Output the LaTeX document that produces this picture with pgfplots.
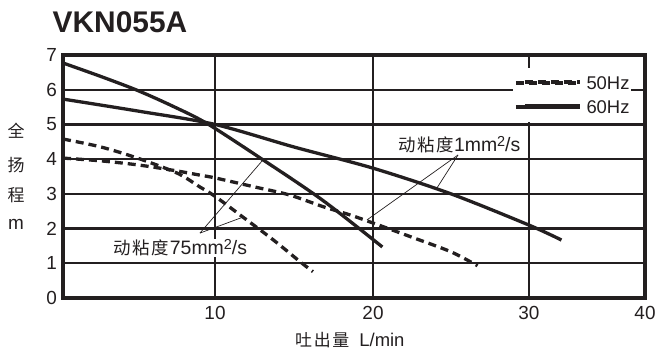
\documentclass[border=0pt]{standalone}
\usepackage{fontspec}
\setmainfont{Liberation Sans}
\newfontfamily\cjk[LetterSpace=10]{Noto Sans CJK SC}
\usepackage{pgfplots}
\pgfplotsset{compat=1.18}
\definecolor{ink}{HTML}{231F20}

\begin{document}
\begin{tikzpicture}
\path[use as bounding box] (0,0) rectangle (665bp,355bp);
\node[font=\fontsize{30}{30}\selectfont\bfseries, text=ink, inner sep=0pt] at (120bp,333bp) {VKN055A};
\node[font=\cjk\fontsize{17}{17}\selectfont, text=ink, inner sep=0pt] at (16bp,224bp) {全};
\node[font=\cjk\fontsize{17}{17}\selectfont, text=ink, inner sep=0pt] at (16bp,190bp) {扬};
\node[font=\cjk\fontsize{17}{17}\selectfont, text=ink, inner sep=0pt] at (16bp,160bp) {程};
\node[font=\fontsize{19}{19}\selectfont, text=ink, inner sep=0pt] at (16bp,131bp) {m};
\node[anchor=west, inner sep=0pt, text=ink, font=\fontsize{18.5}{18.5}\selectfont] at (295bp,15bp) {{\cjk\fontsize{17}{17}\selectfont 吐出量}\hspace{10bp}L/min};
\begin{axis}[
  at={(63bp,57bp)}, anchor=south west, scale only axis,
  width=582bp, height=243bp,
  xmin=0, xmax=40, ymin=0, ymax=7,
  x coord trafo/.code={\pgfmathparse{#1<=10 ? 1.0447*#1 : (#1<=20 ? 10.447+1.0859*(#1-10) : (#1<=30 ? 21.306+1.0721*(#1-20) : 32.027+0.7973*(#1-30)))}},
  xtick={10,20,30,40}, xticklabels={10,20,30,40},
  ytick={0,1,2,3,4,5,6,7}, yticklabels={0,1,2,3,4,5,6,7},
  grid=major, major grid style={line width=2.2bp, color=ink},
  axis line style={line width=3.4bp, color=ink},
  major tick length=0pt,
  tick label style={font=\fontsize{19}{19}\selectfont, text=ink},
  /pgf/number format/assume math mode=true,
  xticklabel style={inner sep=0pt, anchor=north, yshift=-8bp},
  yticklabel style={inner sep=0pt, anchor=east, xshift=-6bp},
  clip=false,
  legend cell align=left,
  legend style={at={(rel axis cs:0.7732,0.9465)}, anchor=north west, draw=none, fill=white,
    inner xsep=1bp, inner ysep=8bp, row sep=10.5bp, column sep=5bp,
    font=\fontsize{18.5}{18.5}\selectfont,
    nodes={inner sep=0pt, text height=13.5bp, text depth=0pt, text=ink}},
  legend image code/.code={\path (0bp,0bp) -- (64bp,0bp); \draw[#1] (9bp,1bp) -- (64bp,1bp);},
]
% 1 mm2/s, 50 Hz
\addplot[ink, line width=3.3bp, dash pattern=on 8bp off 5bp, smooth, tension=0.5] coordinates {
 (0,4.03) (2.5,3.95) (5,3.83) (7.5,3.66) (9,3.54) (10,3.46) (12.5,3.2) (14.7,2.97) (16.85,2.63) (18.5,2.4) (20,2.16) (22.5,1.75) (25,1.33) (26.7,0.93)};
\addlegendentry{50Hz}
% 1 mm2/s, 60 Hz
\addplot[ink, line width=3.3bp, smooth, tension=0.5] coordinates {
 (0,5.73) (5,5.38) (10,5.0) (15,4.35) (20,3.74) (25,3.0) (30,2.1) (32.8,1.67)};
\addlegendentry{60Hz}
% 75 mm2/s, 50 Hz
\addplot[ink, line width=3.3bp, dash pattern=on 8bp off 5bp, smooth, tension=0.5, forget plot] coordinates {
 (0,4.58) (2.5,4.35) (4.9,4.03) (7.5,3.6) (9,3.2) (10,2.93) (11.8,2.32) (13.7,1.67) (15.4,1.04) (16.2,0.76)};
% 75 mm2/s, 60 Hz
\addplot[ink, line width=3.3bp, smooth, tension=0.5, forget plot] coordinates {
 (0,6.77) (2.5,6.38) (4.9,5.98) (7.2,5.53) (9.5,5.02) (13.04,3.98) (16.8,2.82) (20.6,1.47)};
% leader lines
\draw[ink, line width=0.7bp] (axis cs:9.01,1.87) -- (axis cs:13.04,3.98);
\draw[ink, line width=0.7bp] (axis cs:9.01,1.87) -- (axis cs:11.77,2.33);
\draw[ink, line width=0.7bp] (axis cs:25.45,4.12) -- (axis cs:24.1,3.17);
\draw[ink, line width=0.7bp] (axis cs:25.45,4.12) -- (axis cs:19.62,2.25);
\node[anchor=west, fill=white, inner sep=1bp, text=ink, font=\fontsize{19.5}{19.5}\selectfont] at (axis cs:3.22,1.44)
 {{\cjk\fontsize{17.5}{17.5}\selectfont 动粘度}\hspace{1bp}75mm\raisebox{5bp}{\fontsize{14.5}{14.5}\selectfont 2}/s};
\node[anchor=west, fill=white, inner sep=1bp, text=ink, font=\fontsize{19.5}{19.5}\selectfont] at (axis cs:21.54,4.43)
 {{\cjk\fontsize{17.5}{17.5}\selectfont 动粘度}1mm\raisebox{5bp}{\fontsize{14.5}{14.5}\selectfont 2}/s};
\end{axis}
\end{tikzpicture}
\end{document}
